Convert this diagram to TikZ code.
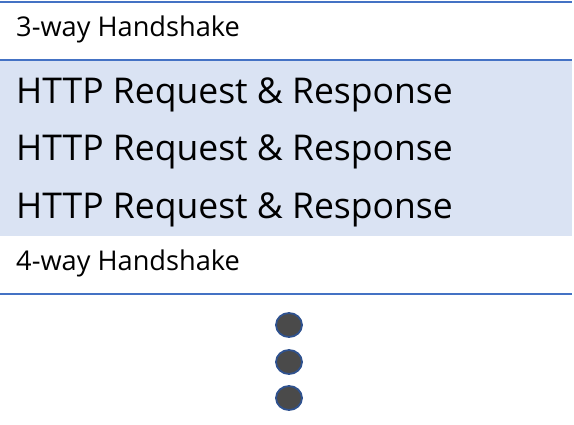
\documentclass[tikz,border=0pt]{standalone}
\usepackage{fontspec}
\setmainfont{Open Sans}
\usetikzlibrary{shapes.geometric}
\definecolor{lineblue}{HTML}{4472C4}
\definecolor{bandblue}{HTML}{DAE3F3}
\definecolor{dotfill}{HTML}{4A4A4A}
\definecolor{dotline}{HTML}{2F528F}
\tikzset{
  sepline/.style={draw=lineblue, line width=2.5pt},
  smalltxt/.style={anchor=base west, inner sep=0pt, font=\fontsize{27.2}{32}\selectfont},
  bigtxt/.style={anchor=base west, inner sep=0pt, font=\fontsize{35.5}{42}\selectfont},
  dot/.style={ellipse, fill=dotfill, draw=dotline, line width=1.8pt, minimum width=26pt, minimum height=24pt, inner sep=0pt}
}
\begin{document}
\begin{tikzpicture}[x=1pt,y=-1pt]
\useasboundingbox (0,0) rectangle (574,424);
\fill[bandblue] (0,60) rectangle (572,236);
\coordinate (l1a) at (0,2); \coordinate (l1b) at (572,2);
\coordinate (l2a) at (0,60); \coordinate (l2b) at (572,60);
\coordinate (l3a) at (0,294); \coordinate (l3b) at (572,294);
\draw[sepline] (l1a) -- (l1b);
\draw[sepline] (l2a) -- (l2b);
\draw[sepline] (l3a) -- (l3b);
\node[smalltxt] (t3) at (16,36) {3-way Handshake};
\node[bigtxt] (h1) at (16,103) {HTTP Request \& Response};
\node[bigtxt] (h2) at (16,160) {HTTP Request \& Response};
\node[bigtxt] (h3) at (16,218) {HTTP Request \& Response};
\node[smalltxt] (t4) at (16,270) {4-way Handshake};
\node[dot] (d1) at (289,325) {};
\node[dot] (d2) at (289,362) {};
\node[dot] (d3) at (289,398) {};
\end{tikzpicture}
\end{document}
